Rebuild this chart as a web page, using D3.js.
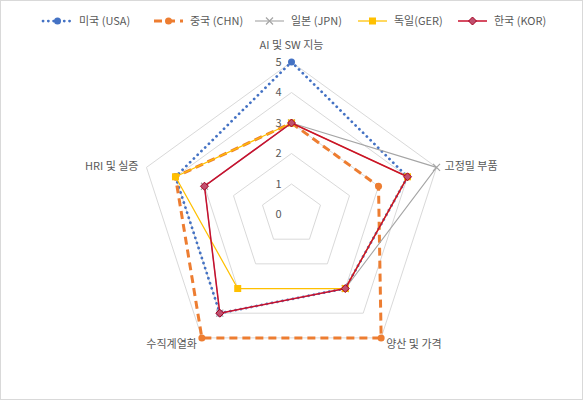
<!DOCTYPE html>
<html>
<head>
<meta charset="utf-8">
<script src="https://cdn.jsdelivr.net/npm/d3@7"></script>
<style>
  body { margin: 0; background: #fff; }
  text { font-family: "Noto Sans CJK KR", "Noto Sans", sans-serif; fill: #595959; }
</style>
</head>
<body>
<svg id="chart" width="583" height="400"></svg>
<script>
// axes of the radar, clockwise from top
var categories = ["AI 및 SW 지능", "고정밀 부품", "양산 및 가격", "수직계열화", "HRI 및 실증"];
var ticks = [0, 1, 2, 3, 4, 5];

var usa = [5, 4, 3, 4, 4];
var chn = [3, 3, 5, 5, 4];
var jpn = [3, 5, 3, 4, 3];
var ger = [3, 4, 3, 3, 4];
var kor = [3, 4, 3, 4, 3];

var seriesNames = ["미국 (USA)", "중국 (CHN)", "일본 (JPN)", "독일(GER)", "한국 (KOR)"];

var series = [
    { name: seriesNames[0], values: usa, color: "#4472C4", width: 2.75, dash: "0.1,5.2", cap: "round", marker: "circle" },
    { name: seriesNames[1], values: chn, color: "#ED7D31", width: 3, dash: "8,5", cap: "butt", marker: "circle" },
    { name: seriesNames[2], values: jpn, color: "#A5A5A5", width: 1.1, dash: null, cap: "butt", marker: "cross" },
    { name: seriesNames[3], values: ger, color: "#FFC000", width: 1.25, dash: null, cap: "butt", marker: "square" },
    { name: seriesNames[4], values: kor, color: "#C8102E", width: 1.5, dash: null, cap: "butt", marker: "diamond" }
];

var svg = d3.select("#chart");
var cx = 291.5, cy = 214.5;

svg.append("rect")
    .attr("x", 0.5).attr("y", 0.5)
    .attr("width", 582).attr("height", 399)
    .attr("fill", "#fff")
    .attr("stroke", "#d9d9d9");

var r = d3.scaleLinear().domain([0, 5]).range([0, 152.5]);
var angle = d3.scaleLinear().domain([0, categories.length]).range([0, 2 * Math.PI]);

var g = svg.append("g").attr("transform", "translate(" + cx + "," + cy + ")");

function pt(i, v) {
    var a = angle(i);
    return [r(v) * Math.sin(a), -r(v) * Math.cos(a)];
}

// grid pentagons
var radial = d3.lineRadial()
    .angle(function (d, i) { return angle(i); })
    .radius(function (d) { return r(d); })
    .curve(d3.curveLinearClosed);

g.selectAll(".grid")
    .data(ticks.slice(1))
    .enter().append("path")
    .attr("class", "grid")
    .attr("d", function (t) { return radial(categories.map(function () { return t; })); })
    .attr("fill", "none")
    .attr("stroke", "#d9d9d9")
    .attr("stroke-width", 1);

// tick labels
g.selectAll(".tick")
    .data(ticks)
    .enter().append("text")
    .attr("x", -10)
    .attr("y", function (t) { return -r(t); })
    .attr("dy", "0.35em")
    .attr("text-anchor", "end")
    .attr("font-size", 11)
    .text(function (t) { return t; });

// category labels
g.selectAll(".cat")
    .data(categories)
    .enter().append("text")
    .attr("font-size", 11)
    .attr("x", function (d, i) {
        var p = pt(i, 5);
        if (i === 0) return p[0];
        if (i === 1) return p[0] + 8;
        if (i === 4) return p[0] - 8;
        return p[0] + (i === 2 ? 5 : -5);
    })
    .attr("y", function (d, i) {
        var p = pt(i, 5);
        if (i === 0) return p[1] - 17;
        if (i === 1 || i === 4) return p[1] - 1;
        return p[1] + 6;
    })
    .attr("dy", "0.35em")
    .attr("text-anchor", function (d, i) {
        if (i === 0) return "middle";
        return (i === 1 || i === 2) ? "start" : "end";
    })
    .text(function (d) { return d; });

function drawMarker(sel, s, x, y) {
    if (s.marker === "circle") {
        sel.append("circle").attr("cx", x).attr("cy", y).attr("r", 3.5)
            .attr("fill", s.color);
    } else if (s.marker === "square") {
        sel.append("rect").attr("x", x - 3.5).attr("y", y - 3.5)
            .attr("width", 7).attr("height", 7).attr("fill", s.color);
    } else if (s.marker === "cross") {
        sel.append("path")
            .attr("d", "M" + (x - 3.5) + "," + (y - 3.5) + "L" + (x + 3.5) + "," + (y + 3.5) +
                "M" + (x - 3.5) + "," + (y + 3.5) + "L" + (x + 3.5) + "," + (y - 3.5))
            .attr("stroke", s.color).attr("stroke-width", 1.2);
    } else {
        sel.append("path")
            .attr("d", "M" + x + "," + (y - 4) + "L" + (x + 4) + "," + y + "L" + x + "," + (y + 4) + "L" + (x - 4) + "," + y + "Z")
            .attr("fill", "#C0506E").attr("stroke", "#A50021").attr("stroke-width", 1);
    }
}

// series
series.forEach(function (s) {
    var sg = g.append("g");
    sg.append("path")
        .attr("d", radial(s.values))
        .attr("fill", "none")
        .attr("stroke", s.color)
        .attr("stroke-width", s.width)
        .attr("stroke-dasharray", s.dash)
        .attr("stroke-linecap", s.cap)
        .attr("stroke-linejoin", "round");
    s.values.forEach(function (v, i) {
        var p = pt(i, v);
        drawMarker(sg, s, p[0], p[1]);
    });
});

// legend
var legendX = [43, 154, 255, 358, 458];
var lg = svg.append("g").attr("transform", "translate(0,21)");
series.forEach(function (s, i) {
    var x0 = legendX[i], len = 29;
    lg.append("line")
        .attr("x1", x0).attr("x2", x0 + len)
        .attr("y1", 0).attr("y2", 0)
        .attr("stroke", s.color)
        .attr("stroke-width", s.width)
        .attr("stroke-dasharray", s.dash)
        .attr("stroke-linecap", s.cap);
    drawMarker(lg, s, x0 + len / 2, 0);
    lg.append("text")
        .attr("x", x0 + len + 7)
        .attr("y", 0)
        .attr("dy", "0.35em")
        .attr("font-size", 11)
        .text(s.name);
});
</script>
</body>
</html>
